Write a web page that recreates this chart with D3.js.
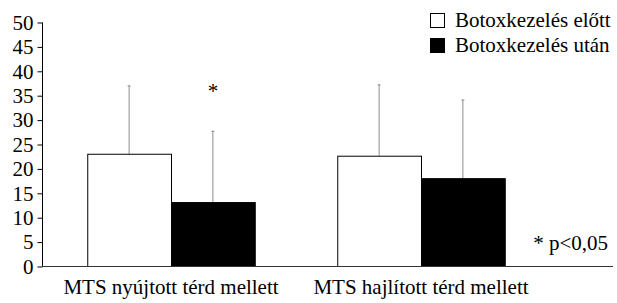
<!DOCTYPE html>
<html>
<head>
<meta charset="utf-8">
<script src="https://cdn.jsdelivr.net/npm/d3@7"></script>
<style>
  body { margin: 0; background: #fff; }
</style>
</head>
<body>
<div id="chart"></div>
<script>
const categories = ['MTS nyújtott térd mellett', 'MTS hajlított térd mellett'];
const seriesNames = ['Botoxkezelés előtt', 'Botoxkezelés után'];
const before = [23.0, 22.6];
const after = [13.1, 18.0];
const beforeSd = [14.0, 14.6];
const afterSd = [14.6, 16.1];
const yTicks = [0, 5, 10, 15, 20, 25, 30, 35, 40, 45, 50];
const significant = [true, false];

const serif = "'Liberation Serif', 'Times New Roman', Times, serif";
const fontSize = 21;
const width = 617, height = 303;
const svg = d3.select('#chart').append('svg')
    .attr('width', width)
    .attr('height', height)
    .attr('font-family', serif);

const y = d3.scaleLinear().domain([0, 50]).range([266, 22]);
const x = d3.scaleBand().domain(categories).range([46, 546])
    .paddingInner(0.33).paddingOuter(0.165);
const sub = d3.scaleBand().domain(seriesNames).range([0, x.bandwidth()]);
const fills = ['#fff', '#000'];

const rows = categories.map((c, i) => seriesNames.map((s, j) => ({
    cat: c, series: s, j,
    value: j === 0 ? before[i] : after[i],
    sd: j === 0 ? beforeSd[i] : afterSd[i]
}))).flat();

// error bars (drawn under the bars)
svg.selectAll('.err')
    .data(rows)
    .enter().append('line')
    .attr('x1', d => x(d.cat) + sub(d.series) + sub.bandwidth() / 2)
    .attr('x2', d => x(d.cat) + sub(d.series) + sub.bandwidth() / 2)
    .attr('y1', d => y(d.value))
    .attr('y2', d => y(d.value + d.sd))
    .attr('stroke', '#8c8c8c')
    .attr('stroke-width', 1);

svg.selectAll('.cap')
    .data(rows)
    .enter().append('line')
    .attr('x1', d => x(d.cat) + sub(d.series) + sub.bandwidth() / 2 - 1.5)
    .attr('x2', d => x(d.cat) + sub(d.series) + sub.bandwidth() / 2 + 1.5)
    .attr('y1', d => y(d.value + d.sd) + 0.5)
    .attr('y2', d => y(d.value + d.sd) + 0.5)
    .attr('stroke', '#8c8c8c')
    .attr('stroke-width', 1);

svg.selectAll('.bar')
    .data(rows)
    .enter().append('rect')
    .attr('x', d => x(d.cat) + sub(d.series) + 0.5)
    .attr('y', d => y(d.value) + 0.5)
    .attr('width', sub.bandwidth())
    .attr('height', d => y(0) - y(d.value))
    .attr('fill', d => fills[d.j])
    .attr('stroke', '#000')
    .attr('stroke-width', 1);

// y axis
const yAxis = d3.axisLeft(y).tickValues(yTicks).tickSize(5).tickPadding(4);
const ga = svg.append('g').attr('transform', 'translate(42.5,0.5)').call(yAxis)
    .attr('font-family', serif).attr('font-size', fontSize);
ga.select('.domain').attr('d', `M0,${y(50)}V${y(0)}`).attr('stroke', '#000');
ga.selectAll('.tick line').attr('stroke', '#000');
ga.selectAll('text').attr('fill', '#000');

// baseline
svg.append('line')
    .attr('x1', 42).attr('x2', 613)
    .attr('y1', y(0) + 0.5).attr('y2', y(0) + 0.5)
    .attr('stroke', '#333');

// category labels
svg.selectAll('.cat')
    .data(categories)
    .enter().append('text')
    .attr('x', d => x(d) + x.bandwidth() / 2)
    .attr('y', 294)
    .attr('text-anchor', 'middle')
    .attr('font-size', fontSize)
    .text(d => d);

// significance stars
svg.selectAll('.star')
    .data(categories.filter((c, i) => significant[i]))
    .enter().append('text')
    .attr('x', d => x(d) + sub(seriesNames[1]) + sub.bandwidth() / 2)
    .attr('y', y(36.5) + 10)
    .attr('text-anchor', 'middle')
    .attr('font-size', fontSize)
    .text('*');

svg.append('text')
    .attr('x', 608).attr('y', 250)
    .attr('text-anchor', 'end')
    .attr('font-size', fontSize)
    .text('* p<0,05');

// legend
const legend = svg.append('g');
seriesNames.forEach((s, i) => {
    const g = legend.append('g').attr('transform', `translate(430,${13 + i * 25})`);
    g.append('rect')
        .attr('x', 0.5).attr('y', 0.5)
        .attr('width', 14).attr('height', 14)
        .attr('fill', fills[i])
        .attr('stroke', '#000');
    g.append('text')
        .attr('x', 25).attr('y', 14)
        .attr('font-size', fontSize)
        .text(s);
});
</script>
</body>
</html>
